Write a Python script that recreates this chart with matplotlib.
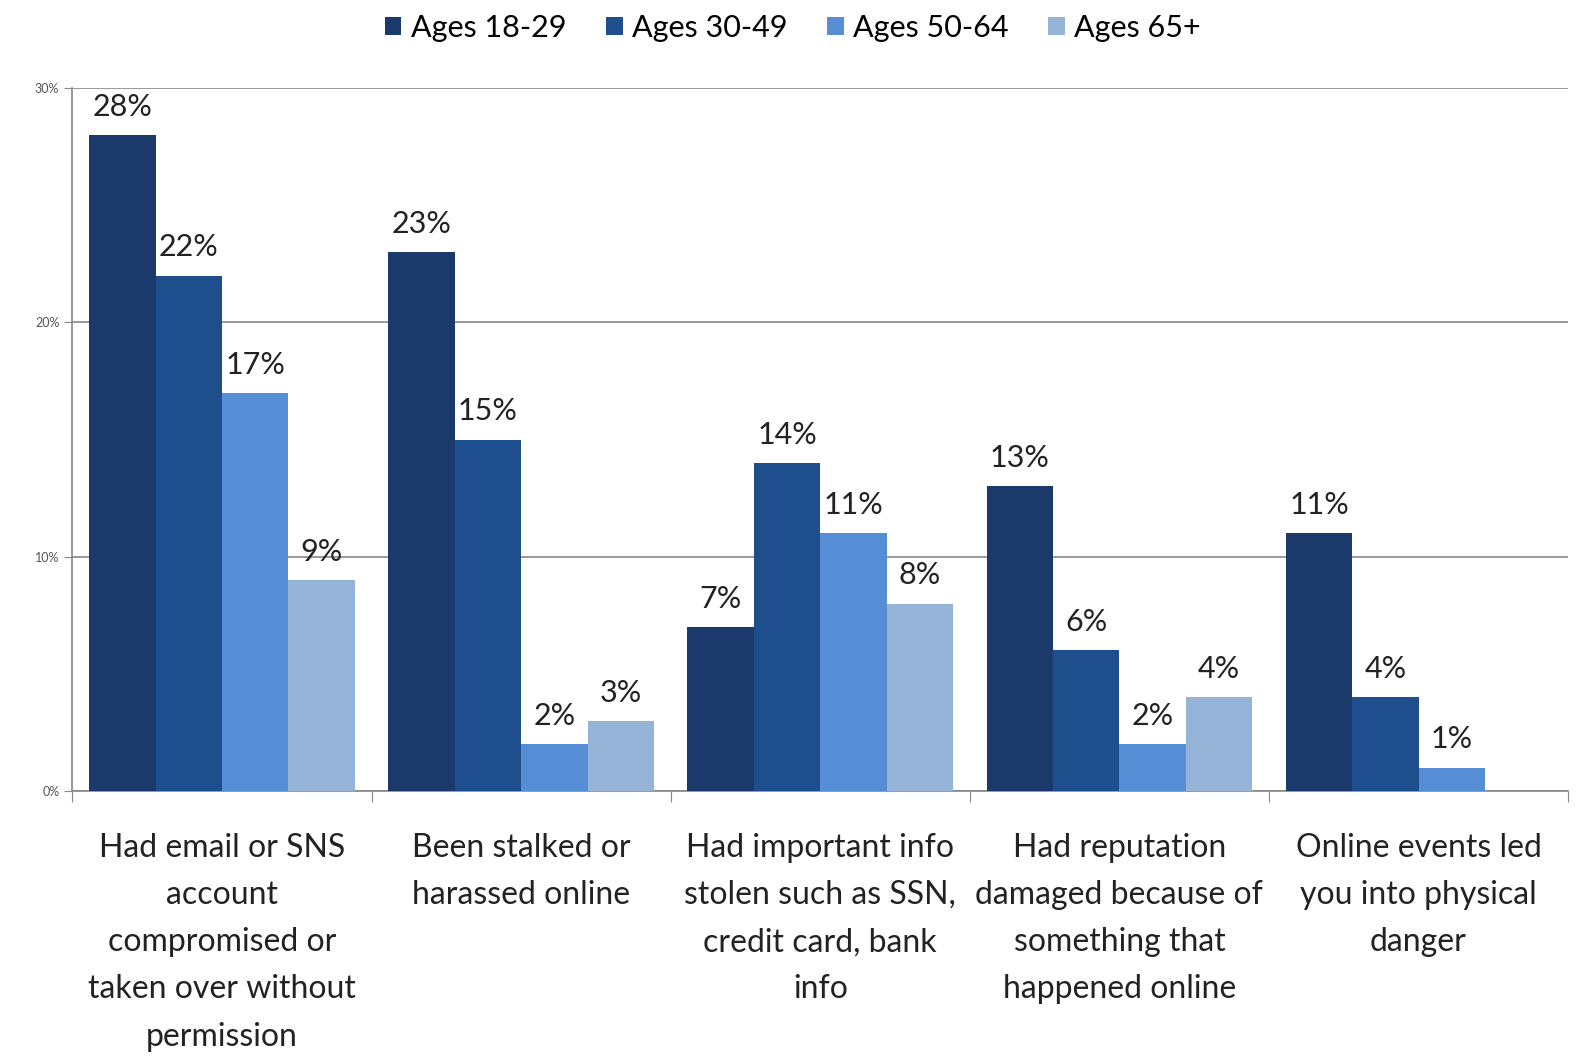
import matplotlib.pyplot as plt
import numpy as np
from matplotlib.ticker import PercentFormatter

plt.rcParams["font.family"] = ["Liberation Sans Narrow", "Lato", "DejaVu Sans"]

categories = [
    "Had email or SNS\naccount\ncompromised or\ntaken over without\npermission",
    "Been stalked or\nharassed online",
    "Had important info\nstolen such as SSN,\ncredit card, bank\ninfo",
    "Had reputation\ndamaged because of\nsomething that\nhappened online",
    "Online events led\nyou into physical\ndanger",
]
series = ["Ages 18-29", "Ages 30-49", "Ages 50-64", "Ages 65+"]
values = [
    [28, 23, 7, 13, 11],
    [22, 15, 14, 6, 4],
    [17, 2, 11, 2, 1],
    [9, 3, 8, 4, 0],
]
colors = ["#1B3A6B", "#1F4E8C", "#558ED5", "#95B3D7"]

fig = plt.figure(figsize=(15.76, 10.61), dpi=100)
ax = fig.add_axes([0.046, 0.2545, 0.949, 0.6625])

x = np.arange(len(categories))
w = 0.222
for i, (name, vals, c) in enumerate(zip(series, values, colors)):
    pos = x - 1.5 * w + i * w
    ax.bar(pos, vals, width=w, color=c, label=name, edgecolor="none", zorder=3)
    for xp, v in zip(pos, vals):
        if v > 0:
            ax.text(xp, v + 0.6, f"{v}%", ha="center", va="bottom",
                    fontsize=22, color="#222222")

ax.set_ylim(0, 30)
ax.set_xlim(-0.5, len(categories) - 0.5)
ax.set_yticks([0, 10, 20, 30])
ax.yaxis.set_major_formatter(PercentFormatter(decimals=0))
ax.tick_params(axis="y", labelsize=9, colors="#555555", length=6, color="#888888")
ax.grid(axis="y", color="#888888", linewidth=1.2, zorder=0)

ax.set_xticks(np.arange(len(categories) + 1) - 0.5, minor=False)
ax.set_xticklabels([])
ax.tick_params(axis="x", length=8, color="#888888", direction="out")
ax.set_xticks(x, minor=True)
ax.set_xticklabels(categories, minor=True, fontsize=23, color="#222222",
                   linespacing=1.72, va="top")
ax.tick_params(axis="x", which="minor", length=0, pad=30)

for s in ["top", "right"]:
    ax.spines[s].set_visible(False)
for s in ["left", "bottom"]:
    ax.spines[s].set_color("#888888")
    ax.spines[s].set_linewidth(1.2)

fig.legend(loc="upper center", bbox_to_anchor=(0.503, 1.013), ncol=4, frameon=False,
           fontsize=22, handlelength=0.55, handleheight=0.55, handletextpad=0.3,
           columnspacing=1.3)

fig.savefig("out.png", dpi=100, facecolor="white")
